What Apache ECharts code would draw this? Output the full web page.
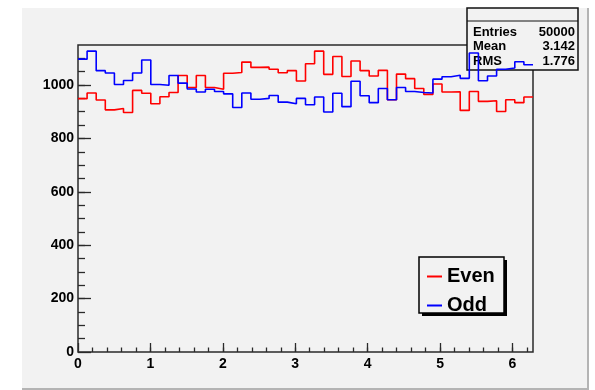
<!DOCTYPE html>
<html>
<head>
<meta charset="utf-8">
<script src="https://cdn.jsdelivr.net/npm/echarts@6/dist/echarts.min.js"></script>
<style>
html,body{margin:0;padding:0;background:#fff;}
#c{width:595px;height:390px;}
</style>
</head>
<body>
<div id="c"></div>
<script>
// ---- data ----
const seriesNames = ['Even', 'Odd'];
const evenVals = [949, 970, 944, 907, 912, 897, 980, 969, 930, 956,
                  972, 1036, 991, 1036, 991, 984, 1044, 1047, 1086, 1066,
                  1067, 1059, 1046, 1054, 1015, 1080, 1127, 1040, 1107, 1032,
                  1090, 1054, 1034, 1055, 945, 1041, 1024, 987, 965, 1004,
                  974, 975, 905, 976, 939, 941, 901, 945, 934, 955];
const oddVals = [1097, 1127, 1054, 1045, 1002, 1017, 1045, 1094, 1002, 999,
                 1036, 1007, 985, 974, 984, 976, 967, 916, 970, 947,
                 950, 961, 936, 930, 950, 926, 955, 899, 969, 919,
                 1014, 960, 934, 987, 945, 991, 976, 972, 970, 1022,
                 1031, 1037, 1025, 1120, 1016, 1034, 1059, 1064, 1087, 1076];
const xTickLabels = [0, 1, 2, 3, 4, 5, 6];
const yTickLabels = [0, 200, 400, 600, 800, 1000];
const statsRows = [['Entries', '50000'], ['Mean', '3.142'], ['RMS', '1.776']];
const xMin = 0, xMax = 2 * Math.PI;
const yMin = 0, yMax = 1150;

// ---- build ----
function histData(vals) {
  const n = vals.length, w = (xMax - xMin) / n;
  const d = vals.map((v, i) => [xMin + i * w, v]);
  d.push([xMax, vals[n - 1]]);
  return d;
}
const xMinor = [];
for (let k = 1; k * 0.2 < xMax; k++) xMinor.push(+(k * 0.2).toFixed(2));
const yMinor = [];
for (let k = 1; k * 50 < yMax; k++) yMinor.push(k * 50);

const FONT = "'Liberation Sans', Arial, Helvetica, sans-serif";
const grid = {left: 78, top: 45, right: 62, bottom: 38};
const plain = v => String(v);

const chart = echarts.init(document.getElementById('c'), null, {renderer: 'canvas'});
chart.setOption({
  animation: false,
  backgroundColor: '#ffffff',
  grid: Object.assign({show: true, borderColor: '#2a2a2a', borderWidth: 1.5, backgroundColor: 'transparent', containLabel: false}, grid),
  xAxis: [
    {type: 'value', min: xMin, max: xMax, position: 'bottom',
     axisLine: {show: false}, splitLine: {show: false},
     axisTick: {show: true, inside: true, length: 9, customValues: xTickLabels, lineStyle: {color: '#2a2a2a', width: 1.3}},
     axisLabel: {show: true, customValues: xTickLabels, formatter: plain, margin: 5, hideOverlap: false, color: '#000', fontFamily: FONT, fontWeight: 'bold', fontSize: 14}},
    {type: 'value', min: xMin, max: xMax, position: 'bottom',
     axisLine: {show: false}, splitLine: {show: false},
     axisTick: {show: true, inside: true, length: 4.5, customValues: xMinor, lineStyle: {color: '#2a2a2a', width: 1.3}},
     axisLabel: {show: false}}
  ],
  yAxis: [
    {type: 'value', min: yMin, max: yMax, position: 'left',
     axisLine: {show: false}, splitLine: {show: false},
     axisTick: {show: true, inside: true, length: 13, customValues: yTickLabels, lineStyle: {color: '#2a2a2a', width: 1.3}},
     axisLabel: {show: true, customValues: yTickLabels, formatter: plain, margin: 4, hideOverlap: false, color: '#000', fontFamily: FONT, fontWeight: 'bold', fontSize: 14}},
    {type: 'value', min: yMin, max: yMax, position: 'left',
     axisLine: {show: false}, splitLine: {show: false},
     axisTick: {show: true, inside: true, length: 7, customValues: yMinor, lineStyle: {color: '#2a2a2a', width: 1.3}},
     axisLabel: {show: false}}
  ],
  legend: {
    show: true, orient: 'vertical', left: 422, top: 261, itemGap: 8,
    itemWidth: 15, itemHeight: 2, icon: 'rect', z: 20,
    data: seriesNames,
    textStyle: {fontFamily: FONT, fontWeight: 'bold', fontSize: 20, color: '#000', lineHeight: 21}
  },
  graphic: [
    // pad
    {type: 'rect', z: -10, silent: true, shape: {x: 22, y: 8, width: 566, height: 382}, style: {fill: '#f2f2f2'}},
    {type: 'line', z: -9, silent: true, shape: {x1: 588, y1: 8, x2: 588, y2: 390}, style: {stroke: '#b4b4b4', lineWidth: 2}},
    {type: 'line', z: -9, silent: true, shape: {x1: 22, y1: 389, x2: 589, y2: 389}, style: {stroke: '#b4b4b4', lineWidth: 2}},
    // stats box
    {type: 'rect', z: 1, silent: true, shape: {x: 467, y: 8, width: 111, height: 62}, style: {fill: '#f2f2f2', stroke: '#111', lineWidth: 1.5}},
    {type: 'line', z: 1, silent: true, shape: {x1: 467, y1: 21, x2: 578, y2: 21}, style: {stroke: '#111', lineWidth: 1.2}},
    ...statsRows.flatMap((r, i) => [
      {type: 'text', z: 1, silent: true, x: 473, y: 32 + i * 14.6, style: {text: r[0], fill: '#000', font: 'bold 13px ' + FONT, textAlign: 'left', textVerticalAlign: 'middle'}},
      {type: 'text', z: 1, silent: true, x: 575, y: 32 + i * 14.6, style: {text: r[1], fill: '#000', font: 'bold 13px ' + FONT, textAlign: 'right', textVerticalAlign: 'middle'}}
    ]),
    // legend box with shadow
    {type: 'rect', z: 14, silent: true, shape: {x: 422, y: 260, width: 85, height: 56}, style: {fill: '#000'}},
    {type: 'rect', z: 15, silent: true, shape: {x: 419, y: 257, width: 85, height: 56}, style: {fill: '#f2f2f2', stroke: '#000', lineWidth: 1.5}}
  ],
  series: [
    {name: seriesNames[0], type: 'line', step: 'end', xAxisIndex: 0, yAxisIndex: 0, showSymbol: false, symbol: 'none',
     color: '#ff0000', lineStyle: {color: '#ff0000', width: 1.6}, data: histData(evenVals), z: 3},
    {name: seriesNames[1], type: 'line', step: 'end', xAxisIndex: 0, yAxisIndex: 0, showSymbol: false, symbol: 'none',
     color: '#0000ff', lineStyle: {color: '#0000ff', width: 1.6}, data: histData(oddVals), z: 4}
  ]
});
</script>
</body>
</html>
